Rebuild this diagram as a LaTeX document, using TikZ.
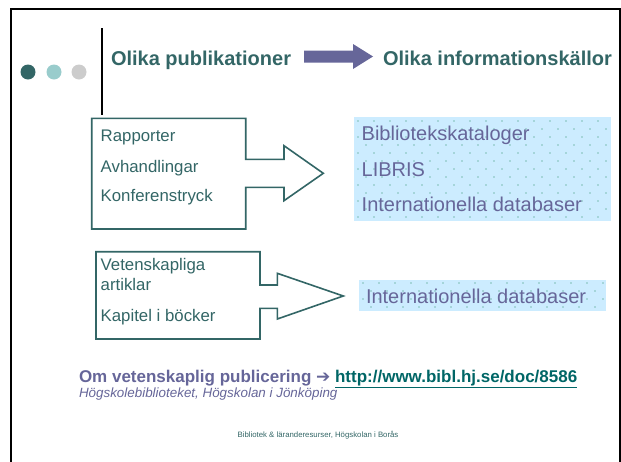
\documentclass[tikz,border=0pt]{standalone}
\usepackage{fontspec}
\setmainfont{Liberation Sans}
\newfontfamily\dejavu{DejaVu Sans}
\definecolor{tealtext}{HTML}{336666}
\definecolor{purpletext}{HTML}{666699}
\definecolor{urlteal}{HTML}{006666}
\definecolor{dotA}{HTML}{336666}
\definecolor{dotB}{HTML}{99CCCC}
\definecolor{dotC}{HTML}{CCCCCC}
\definecolor{bluefill}{HTML}{CCECFF}
\definecolor{patdot}{HTML}{7FBFB5}
\tikzset{
  txt/.style={anchor=base west, inner sep=0pt, outer sep=0pt},
  title/.style={txt, font=\fontsize{20}{24}\selectfont\bfseries, text=tealtext},
  item/.style={txt, font=\fontsize{16.8}{20}\selectfont, text=tealtext},
  src/.style={txt, font=\fontsize{20}{24}\selectfont, text=purpletext},
  callout/.style={draw=tealtext, line width=1.6pt, fill=white, line join=miter},
  bluebox/.style={fill=bluefill, draw=none},
}
\begin{document}
\begin{tikzpicture}[x=1pt,y=-1pt]
\useasboundingbox (0,0) rectangle (621,461);
\clip (0,0) rectangle (621,461);
% frame
\draw[line width=2.5pt] (11,475) -- (11,9) -- (620,9) -- (620,475);
% dots
\fill[dotA] (28,72) circle (7.5);
\fill[dotB] (54,72) circle (7.5);
\fill[dotC] (79,72) circle (7.5);
% vertical rule
\draw[line width=2.5pt] (102,28) -- (102,115);
% titles
\node[title] (t1) at (111,65) {Olika publikationer};
\node[title] (t2) at (383,65) {Olika informationskällor};
\fill[purpletext] (304,50.5) -- (353,50.5) -- (353,44) -- (373,56.5) -- (353,69) -- (353,62.5) -- (304,62.5) -- cycle;
% callout 1
\draw[callout] (91.7,118.3) -- (245.7,118.3) -- (245.7,159.3) -- (284,159.3) -- (284,145.7) -- (323.3,173.3) -- (284,200.7) -- (284,187.3) -- (245.7,187.3) -- (245.7,229) -- (91.7,229) -- cycle;
\node[item] (r1) at (100.7,141.7) {Rapporter};
\node[item] (r2) at (100.7,172.2) {Avhandlingar};
\node[item] (r3) at (100.7,201.7) {Konferenstryck};
% callout 2
\draw[callout] (96,251.7) -- (260,251.7) -- (260,285) -- (277.3,285) -- (277.3,273.3) -- (343.3,296) -- (277.3,319) -- (277.3,308.3) -- (260,308.3) -- (260,339) -- (96,339) -- cycle;
\node[item] (v1) at (100.7,270.7) {Vetenskapliga};
\node[item] (v2) at (100.7,290) {artiklar};
\node[item] (v3) at (100.7,321) {Kapitel i böcker};
% blue box 1
\fill[bluefill] (354,117) rectangle (611,221);
\begin{scope}
\clip (354,117) rectangle (611,221);
\foreach \j in {0,...,13}{
  \pgfmathsetmacro{\yy}{117+4+8*\j}
  \pgfmathsetmacro{\off}{mod(\j,2)*8}
  \foreach \i in {0,...,16}{
    \fill[patdot] ({354+4+\off+16*\i},\yy) circle (0.8);
  }
}
\end{scope}
\node[src] (s1) at (361.7,140) {Bibliotekskataloger};
\node[src] (s2) at (361.7,176) {LIBRIS};
\node[src] (s3) at (361.7,211.7) {Internationella databaser};
% blue box 2
\fill[bluefill] (359,280) rectangle (605.7,310.7);
\begin{scope}
\clip (359,280) rectangle (605.7,310.7);
\foreach \j in {0,...,4}{
  \pgfmathsetmacro{\yy}{280+3+8*\j}
  \pgfmathsetmacro{\off}{mod(\j,2)*8}
  \foreach \i in {0,...,16}{
    \fill[patdot] ({359+4+\off+16*\i},\yy) circle (0.8);
  }
}
\end{scope}
\node[src] (s4) at (366,303.3) {Internationella databaser};
% bottom text
\node[txt, font=\fontsize{17}{20}\selectfont\bfseries, text=purpletext] (om) at (79,382.5)
  {Om vetenskaplig publicering {\dejavu\bfseries ➔} \textcolor{urlteal}{\underline{http://www.bibl.hj.se/doc/8586}}};
\node[txt, font=\fontsize{13.4}{16}\selectfont\itshape, text=purpletext] (hj) at (79,397.5)
  {Högskolebiblioteket, Högskolan i Jönköping};
\node[anchor=base, inner sep=0pt, font=\fontsize{7.8}{9}\selectfont, text=tealtext] (foot) at (318,437)
  {Bibliotek \& läranderesurser, Högskolan i Borås};
\end{tikzpicture}
\end{document}
